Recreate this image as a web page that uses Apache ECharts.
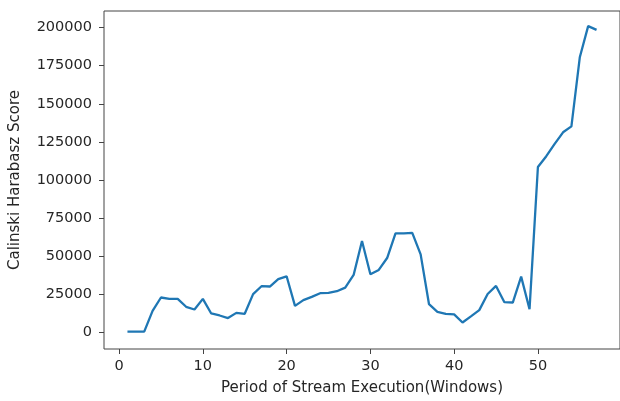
<!DOCTYPE html>
<html>
<head>
<meta charset="utf-8">
<script src="https://cdn.jsdelivr.net/npm/echarts@6/dist/echarts.min.js"></script>
<style>html,body{margin:0;padding:0;background:#fff}#c{width:620px;height:401px}</style>
</head>
<body>
<div id="c"></div>
<script>
const windows = [];
for (let i = 1; i <= 57; i++) windows.push(i);
const scores = [500, 500, 500, 14100, 22900, 22000, 22000, 16800, 15000, 22000,
  12400, 11100, 9400, 12800, 12200, 25100, 30300, 30100, 34900, 36800,
  17400, 21200, 23300, 25700, 25900, 27000, 29400, 37700, 60000, 38200,
  41000, 48800, 65000, 65000, 65300, 51200, 18500, 13500, 12200, 11800,
  6500, 10500, 14600, 25200, 30500, 19800, 19600, 36600, 15200, 108500,
  115600, 123700, 131300, 135200, 180500, 201000, 198500];
const xTicks = [0, 10, 20, 30, 40, 50];
const yTicks = [0, 25000, 50000, 75000, 100000, 125000, 150000, 175000, 200000];

const font = 'DejaVu Sans';
const txt = '#262626';
const chart = echarts.init(document.getElementById('c'), null, {renderer: 'canvas'});
chart.setOption({
  animation: false,
  grid: {left: 104, top: 11, width: 521, height: 339, show: true, borderColor: '#444', borderWidth: 1, backgroundColor: '#fff'},
  xAxis: {
    type: 'value', min: -1.8, max: 59.8,
    name: 'Period of Stream Execution(Windows)', nameLocation: 'middle', nameGap: 32,
    nameTextStyle: {fontFamily: font, fontSize: 15, color: txt},
    axisLine: {show: false, onZero: false},
    splitLine: {show: false},
    axisTick: {show: true, length: 5, inside: false, customValues: xTicks, lineStyle: {color: '#444'}},
    axisLabel: {customValues: xTicks, fontFamily: font, fontSize: 14.5, color: txt, margin: 10, formatter: v => String(v)}
  },
  yAxis: {
    type: 'value', min: -10900, max: 210900,
    name: 'Calinski Harabasz Score', nameLocation: 'middle', nameGap: 81,
    nameTextStyle: {fontFamily: font, fontSize: 15, color: txt},
    axisLine: {show: false, onZero: false},
    splitLine: {show: false},
    axisTick: {show: true, length: 5, inside: false, customValues: yTicks, lineStyle: {color: '#444'}},
    axisLabel: {customValues: yTicks, fontFamily: font, fontSize: 14.5, color: txt, margin: 12, formatter: v => String(v)}
  },
  series: [{
    type: 'line',
    data: windows.map((w, i) => [w, scores[i]]),
    showSymbol: false,
    lineStyle: {color: '#1f77b4', width: 2.3},
    itemStyle: {color: '#1f77b4'}
  }]
});
</script>
</body>
</html>
